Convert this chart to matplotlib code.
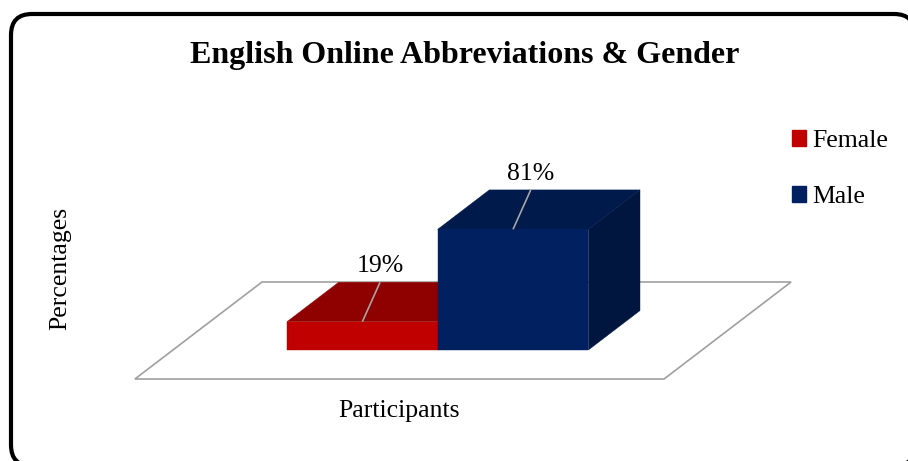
import numpy as np
import matplotlib.pyplot as plt
from matplotlib.patches import Polygon, FancyBboxPatch, Patch

plt.rcParams['font.family'] = ['Liberation Serif', 'DejaVu Serif']

# chart data
series_names = ['Female', 'Male']
series_values = [19, 81]
series_front = ['#C00000', '#00205F']
series_top = ['#8F0000', '#001A4B']
series_side = ['#6E0000', '#00163E']
category_label = 'Participants'
value_label = 'Percentages'
title_text = 'English Online Abbreviations & Gender'

# figure size in pixels and the 3-D look of the plot area
FIG_W, FIG_H = 908, 461
ORIGIN_PX = (287, 350)      # front-left foot of the first bar
X_PX = 150.7                # pixels per bar width
Y_PX = 1.49                 # pixels per percent
DEPTH_DX = 51.6 / X_PX      # oblique shift for one unit of depth
DEPTH_DY = 39.4 / Y_PX
FLOOR_X = (-0.757, 2.754)
FLOOR_Z = (-0.736, 1.726)


def project(x, y, z):
    return (x + z * DEPTH_DX, y + z * DEPTH_DY)


def plot_charts():
    fig = plt.figure(figsize=(FIG_W / 100, FIG_H / 100), dpi=100)

    ##########################################################################
    # rounded outer frame, drawn in pixel units
    ##########################################################################
    frame_ax = fig.add_axes([0, 0, 1, 1])
    frame_ax.set_xlim(0, FIG_W)
    frame_ax.set_ylim(FIG_H, 0)
    frame_ax.axis('off')
    frame_ax.add_patch(FancyBboxPatch((11, 14), 904, 452,
                                      boxstyle='round,pad=0,rounding_size=21',
                                      facecolor='white', edgecolor='black',
                                      linewidth=3.0))

    ##########################################################################
    # plot area in bar / percent units
    ##########################################################################
    ax = fig.add_axes([0, 0, 1, 1])
    ax.patch.set_alpha(0)
    ax.set_xlim(-ORIGIN_PX[0] / X_PX, (FIG_W - ORIGIN_PX[0]) / X_PX)
    ax.set_ylim(-(FIG_H - ORIGIN_PX[1]) / Y_PX, ORIGIN_PX[1] / Y_PX)
    ax.axis('off')

    floor = [project(FLOOR_X[0], 0, FLOOR_Z[0]),
             project(FLOOR_X[1], 0, FLOOR_Z[0]),
             project(FLOOR_X[1], 0, FLOOR_Z[1]),
             project(FLOOR_X[0], 0, FLOOR_Z[1])]
    ax.add_patch(Polygon(floor, closed=True, facecolor='white',
                         edgecolor='#A0A0A0', linewidth=1.2))

    for i, v in enumerate(series_values):
        x0, x1 = i, i + 1
        front = [(x0, 0), (x1, 0), (x1, v), (x0, v)]
        top = [project(x0, v, 0), project(x1, v, 0),
               project(x1, v, 1), project(x0, v, 1)]
        side = [project(x1, 0, 0), project(x1, 0, 1),
                project(x1, v, 1), project(x1, v, 0)]
        ax.add_patch(Polygon(side, closed=True, facecolor=series_side[i],
                             edgecolor=series_side[i], linewidth=0.3))
        ax.add_patch(Polygon(top, closed=True, facecolor=series_top[i],
                             edgecolor=series_top[i], linewidth=0.3))
        ax.add_patch(Polygon(front, closed=True, facecolor=series_front[i],
                             edgecolor=series_front[i], linewidth=0.3))

    # value labels with leader lines
    for i, v in enumerate(series_values):
        xc = i + 0.5
        start = (xc, v)
        end = project(xc - 0.225, v, 1)
        ax.plot([start[0], end[0]], [start[1], end[1]],
                color='#A6A6A6', linewidth=1.2, solid_capstyle='butt')
        ax.text(end[0], end[1] + 16 / Y_PX, f'{v}%',
                ha='center', va='center', fontsize=18.5)

    ##########################################################################
    # titles, axis names and legend
    ##########################################################################
    frame_ax.text(465, 55, title_text, ha='center', va='center',
                  fontsize=23, fontweight='bold')
    frame_ax.text(399, 411, category_label, ha='center', va='center',
                  fontsize=18.5)
    frame_ax.text(60, 268, value_label, ha='center', va='center',
                  rotation=90, fontsize=18.5)

    handles = [Patch(facecolor=c, edgecolor=c) for c in series_front]
    fig.legend(handles, series_names, loc='upper left',
               bbox_to_anchor=(792 / FIG_W, 1 - 130 / FIG_H),
               frameon=False, fontsize=18.5, borderpad=0, borderaxespad=0,
               handlelength=0.55, handleheight=0.55, handletextpad=0.25,
               labelspacing=1.33)

    plt.savefig('out.png', dpi=100)


def main():
    plot_charts()


if __name__ == '__main__':
    main()
